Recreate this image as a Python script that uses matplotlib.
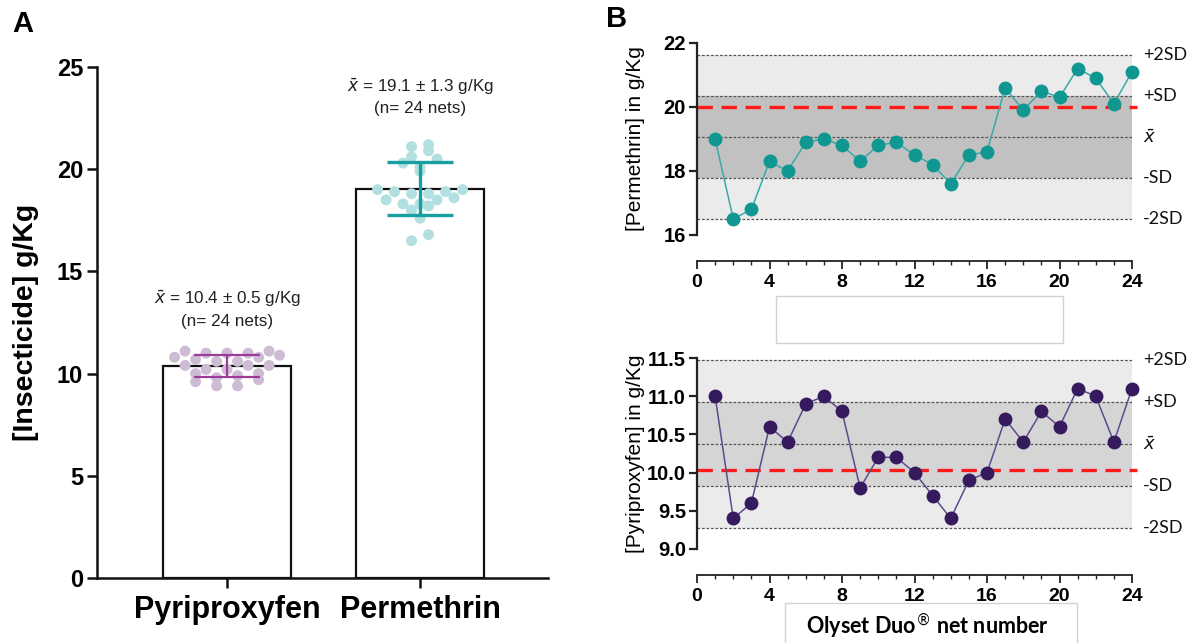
import numpy as np
import matplotlib
matplotlib.use("Agg")
import matplotlib.pyplot as plt
from matplotlib.patches import Rectangle
from matplotlib.ticker import MultipleLocator

# ---------------- data ----------------
categories = ["Pyriproxyfen", "Permethrin"]
net_number = list(range(1, 25))
permethrin = [19.0, 16.5, 16.8, 18.3, 18.0, 18.9, 19.0, 18.8, 18.3, 18.8, 18.9, 18.5,
              18.2, 17.6, 18.5, 18.6, 20.6, 19.9, 20.5, 20.3, 21.2, 20.9, 20.1, 21.1]
pyriproxyfen = [11.0, 9.4, 9.6, 10.6, 10.4, 10.9, 11.0, 10.8, 9.8, 10.2, 10.2, 10.0,
                9.7, 9.4, 9.9, 10.0, 10.7, 10.4, 10.8, 10.6, 11.1, 11.0, 10.4, 11.1]
target_permethrin = 20.0
target_pyriproxyfen = 10.03
annot_A = [r"$\bar{x}$ = 10.4 ± 0.5 g/Kg", r"$\bar{x}$ = 19.1 ± 1.3 g/Kg"]
annot_n = ["(n= 24 nets)", "(n= 24 nets)"]
sd_labels = ["+2SD", "+SD", r"$\bar{x}$", "-SD", "-2SD"]
sd_mult = [2, 1, 0, -1, -2]

W, H = 1190, 643
fig = plt.figure(figsize=(W / 100, H / 100), dpi=100)
plt.rcParams['font.family'] = ['Liberation Sans', 'DejaVu Sans']
plt.rcParams['mathtext.fontset'] = 'dejavusans'

def fx(px): return px / W
def fy(py): return 1 - py / H

# ---------------- Panel A ----------------
axA = fig.add_axes([fx(97), fy(578), fx(548) - fx(97), fy(67) - fy(578)])
axA.set_xlim(-0.674, 1.663)
axA.set_ylim(0, 25)
series = [np.array(pyriproxyfen), np.array(permethrin)]
means = [s.mean() for s in series]
sds = [s.std(ddof=1) for s in series]
dot_colors = ["#cdbcd3", "#b2dfdf"]
err_colors = ["#9b3d98", "#18a0a0"]
err_lw = [1.6, 2.4]

axA.bar([0, 1], means, width=0.66, color="white", edgecolor="#111111", linewidth=1.6, zorder=2)

def row_scatter(vals, binw, spacing):
    # GraphPad-like scatter: values binned into rows, each row spread horizontally
    vals = np.asarray(vals)
    rows = np.floor((vals - vals.min()) / binw + 1e-6).astype(int)
    offs = np.zeros(len(vals))
    for r in np.unique(rows):
        idx = np.where(rows == r)[0]
        idx = idx[np.argsort(vals[idx], kind="stable")]
        n = len(idx)
        slots = (np.arange(n) - (n - 1) / 2.0) * spacing
        if r % 2 == 1 and n % 2 == 1 and n > 1:
            slots = slots + spacing / 2.0
        slots = sorted(slots, key=lambda s: (abs(s), s))
        for j, i in enumerate(idx):
            offs[i] = slots[j]
    return offs

row_bins = [0.4, 0.45]
row_spacing = [21.0 / 193, 17.0 / 193]
for k, s in enumerate(series):
    off = row_scatter(s, row_bins[k], row_spacing[k])
    axA.scatter(k + off, s, s=62, color=dot_colors[k], edgecolors="none", zorder=3)
    axA.errorbar(k, means[k], yerr=sds[k], color=err_colors[k], lw=err_lw[k],
                 capsize=24, capthick=err_lw[k], zorder=4)
    ytxt = [13.65, 24.05][k]
    axA.text(k, ytxt, annot_A[k], ha="center", va="center", fontsize=12.3, color="#222222")
    axA.text(k, ytxt - 1.1, annot_n[k], ha="center", va="center", fontsize=12.3, color="#222222")

for sp in ["top", "right"]:
    axA.spines[sp].set_visible(False)
for sp in ["left", "bottom"]:
    axA.spines[sp].set_linewidth(1.8)
    axA.spines[sp].set_color("#111111")
axA.set_xticks([0, 1])
axA.set_xticklabels(categories, fontsize=22, fontweight="bold")
axA.set_yticks([0, 5, 10, 15, 20, 25])
axA.set_yticklabels(["0", "5", "10", "15", "20", "25"], fontsize=17, fontweight="bold")
axA.tick_params(axis="both", length=7, width=1.8, color="#111111", pad=3)
axA.tick_params(axis="x", pad=5)
axA.set_ylabel("[Insecticide] g/Kg", fontsize=20.5, fontweight="bold")
axA.yaxis.set_label_coords(-0.128, 0.5)

fig.text(fx(23), fy(24), "A", fontsize=21, fontweight="bold", ha="center", va="center")
fig.text(fx(617), fy(19), "B", fontsize=21, fontweight="bold", ha="center", va="center")

# ---------------- Panel B ----------------
def control_panel(ax, vals, target, ylim, yticks, yticklabels, ylabel, col_pt, col_line, dark_band):
    vals = np.array(vals)
    m = vals.mean()
    sd = vals.std(ddof=1)
    ax.set_xlim(0, 24)
    ax.set_ylim(*ylim)
    ax.fill_between([0, 24], m - 2 * sd, m + 2 * sd, color="#ebebeb", lw=0, zorder=0)
    ax.fill_between([0, 24], m - sd, m + sd, color=dark_band, lw=0, zorder=0.5)
    ax.plot([24, 24], [m - 2 * sd, m + 2 * sd], color="#d0d0d0", lw=0.8, zorder=0.6)
    for mult, lab in zip(sd_mult, sd_labels):
        yv = m + mult * sd
        ax.plot([0, 24], [yv, yv], color="#555555", lw=0.9, ls=(0, (2.2, 1.4)), zorder=1)
        ax.text(24.6, yv, lab, ha="left", va="center", fontsize=13, family=["Lato", "DejaVu Sans"],
                color="#111111", clip_on=False)
    ax.plot([0, 24.25], [target, target], color="#ff1a1a", lw=2.4, ls=(0, (4.6, 2.6)),
            zorder=2, clip_on=False)
    ax.plot(net_number, vals, color=col_line, lw=1.1, zorder=3, clip_on=False)
    ax.plot(net_number, vals, "o", ms=10, color=col_pt, mec="none", zorder=4, clip_on=False)
    for sp in ["top", "right"]:
        ax.spines[sp].set_visible(False)
    ax.spines["left"].set_linewidth(1.6)
    ax.spines["bottom"].set_linewidth(1.3)
    ax.spines["left"].set_color("#222222")
    ax.spines["bottom"].set_color("#222222")
    ax.spines["bottom"].set_position(("outward", 19.0))
    ax.set_yticks(yticks)
    ax.set_yticklabels(yticklabels, fontsize=14.5, fontweight="bold")
    ax.set_xticks([0, 4, 8, 12, 16, 20, 24])
    ax.set_xticklabels(["0", "4", "8", "12", "16", "20", "24"], fontsize=14, fontweight="bold")
    ax.xaxis.set_minor_locator(MultipleLocator(1))
    ax.tick_params(axis="y", length=6, width=1.6, color="#222222", pad=2)
    ax.tick_params(axis="x", which="major", length=6, width=1.3, color="#222222", pad=3)
    ax.tick_params(axis="x", which="minor", length=3, width=1.0, color="#222222")
    ax.set_ylabel(ylabel, fontsize=15)
    ax.yaxis.set_label_coords((645 - 697) / 435, 0.5)

axT = fig.add_axes([fx(697), fy(235), fx(1132) - fx(697), fy(43) - fy(235)])
control_panel(axT, permethrin, target_permethrin, (16, 22), [16, 18, 20, 22],
              ["16", "18", "20", "22"], "[Permethrin] in g/Kg", "#109791", "#3aa9a6", "#c1c1c1")

axBt = fig.add_axes([fx(697), fy(549), fx(1132) - fx(697), fy(358) - fy(549)])
control_panel(axBt, pyriproxyfen, target_pyriproxyfen, (9.0, 11.5), [9.0, 9.5, 10.0, 10.5, 11.0, 11.5],
              ["9.0", "9.5", "10.0", "10.5", "11.0", "11.5"], "[Pyriproxyfen] in g/Kg",
              "#351a5e", "#5b4b8c", "#d5d5d5")

# empty white box between plots and label box
fig.patches.append(Rectangle((fx(776), fy(343)), fx(1063) - fx(776), fy(296) - fy(343),
                             transform=fig.transFigure, facecolor="white", edgecolor="#d2d2d2", lw=1.0))
fig.patches.append(Rectangle((fx(785), fy(650)), fx(1077) - fx(785), fy(603) - fy(650),
                             transform=fig.transFigure, facecolor="white", edgecolor="#d2d2d2", lw=1.0))
fig.text(fx(927), fy(626), r"Olyset Duo$^{®}$ net number", ha="center", va="center",
         fontsize=15.5, fontweight="bold", family=["Lato", "DejaVu Sans"])

fig.savefig("out.png", dpi=100)
